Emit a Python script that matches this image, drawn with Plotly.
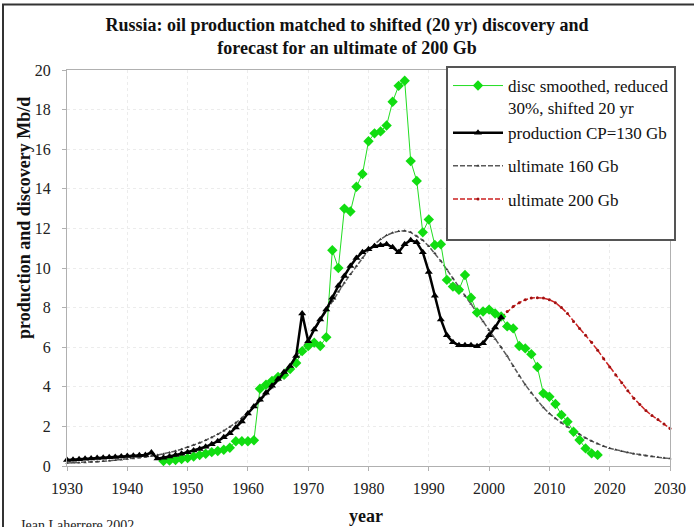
import plotly.graph_objects as go

# ---------------- data ----------------
disc_years = list(range(1946, 2019))
disc_values = [0.25, 0.28, 0.30, 0.35, 0.40, 0.48, 0.55, 0.62, 0.70, 0.76, 0.82, 0.92,
               1.25, 1.25, 1.25, 1.30,
               3.90, 4.10, 4.30, 4.50, 4.60, 4.90, 5.20, 5.80, 6.06, 6.23, 6.06, 6.50,
               10.90, 10.00, 13.00, 12.85, 14.10, 14.75, 16.40, 16.80, 16.90, 17.20, 18.40, 19.20, 19.46,
               15.40, 14.40, 11.80, 12.45, 11.16, 11.20, 9.40, 9.06, 8.90, 9.65, 8.50, 7.75, 7.80, 7.90,
               7.70, 7.55, 7.05, 6.95, 6.06, 5.94, 5.65, 5.00, 3.67, 3.50, 3.13, 2.58, 2.24, 1.73,
               1.31, 0.89, 0.64, 0.56]

prod_years = list(range(1930, 2003))
prod_values = [0.30, 0.32, 0.34, 0.36, 0.38, 0.40, 0.42, 0.44, 0.46, 0.48,
               0.50, 0.52, 0.54, 0.56, 0.68, 0.38, 0.42, 0.48, 0.55, 0.62,
               0.70, 0.78, 0.86, 0.97, 1.10, 1.25, 1.45, 1.65, 1.95, 2.25,
               2.65, 3.00, 3.35, 3.70, 4.05, 4.40, 4.75, 5.05, 5.55, 7.70,
               6.30, 6.90, 7.40, 7.90, 8.50, 9.10, 9.60, 10.10, 10.50, 10.80,
               10.95, 11.10, 11.15, 11.20, 11.05, 10.80, 11.20, 11.40, 11.30, 10.80,
               9.80, 8.60, 7.40, 6.60, 6.25, 6.10, 6.10, 6.10, 6.05, 6.20,
               6.60, 7.00, 7.50]

u160_years = list(range(1930, 2031))
u160_values = [0.15, 0.16, 0.17, 0.18, 0.20, 0.22, 0.24, 0.26, 0.29, 0.32,
               0.35, 0.38, 0.42, 0.46, 0.50, 0.55, 0.61, 0.68, 0.76, 0.85,
               0.95, 1.06, 1.17, 1.30, 1.44, 1.60, 1.78, 1.97, 2.18, 2.43,
               2.70, 2.99, 3.29, 3.61, 3.95, 4.30, 4.70, 5.10, 5.52, 5.95,
               6.40, 6.88, 7.36, 7.84, 8.32, 8.80, 9.25, 9.68, 10.10, 10.50,
               10.90, 11.20, 11.45, 11.65, 11.78, 11.85, 11.88, 11.80, 11.62, 11.40,
               11.10, 10.75, 10.35, 9.92, 9.47, 9.00, 8.60, 8.18, 7.75, 7.30,
               6.85, 6.42, 6.00, 5.55, 5.05, 4.55, 4.10, 3.70, 3.30, 2.95,
               2.65, 2.40, 2.18, 1.98, 1.78, 1.60, 1.42, 1.26, 1.12, 1.00,
               0.90, 0.82, 0.75, 0.68, 0.62, 0.57, 0.52, 0.48, 0.44, 0.41,
               0.38]

u200_years = list(range(2002, 2031))
u200_values = [7.50, 7.80, 8.05, 8.25, 8.40, 8.48, 8.50, 8.48, 8.40, 8.25,
               8.00, 7.70, 7.30, 6.95, 6.60, 6.25, 5.85, 5.42, 5.00, 4.60,
               4.20, 3.80, 3.42, 3.10, 2.80, 2.55, 2.35, 2.12, 1.90]

x_ticks = [1930, 1940, 1950, 1960, 1970, 1980, 1990, 2000, 2010, 2020, 2030]
y_ticks = [0, 2, 4, 6, 8, 10, 12, 14, 16, 18, 20]

FONT = "Liberation Serif"

# plot area in pixels (for placing extra texts)
L, R, T, B = 67, 670, 70, 466
PW, PH = R - L, B - T


def px(x):
    return (x - L) / PW


def py(y):
    return (B - y) / PH


fig = go.Figure()

fig.add_trace(go.Scatter(
    x=u160_years, y=u160_values, mode="lines+markers",
    name="ultimate 160 Gb",
    line=dict(color="#5a5a5a", width=1.5, dash="5px,2px"),
    marker=dict(symbol="triangle-up", size=3, color="#3a3a3a"),
    legendgroup="b", legendrank=3, cliponaxis=False))

fig.add_trace(go.Scatter(
    x=u200_years, y=u200_values, mode="lines+markers",
    name="ultimate 200 Gb<br> ",
    line=dict(color="#cc2222", width=1.5, dash="5px,2px"),
    marker=dict(symbol="circle", size=3, color="#a01010"),
    legendgroup="c", legendrank=4, cliponaxis=False))

fig.add_trace(go.Scatter(
    x=disc_years, y=disc_values, mode="lines+markers",
    name="disc smoothed, reduced<br>30%, shifted 20 yr",
    line=dict(color="#22dd22", width=1),
    marker=dict(symbol="diamond", size=8, color="#11dd11"),
    legendgroup="a", legendrank=1, cliponaxis=False))

fig.add_trace(go.Scatter(
    x=prod_years, y=prod_values, mode="lines+markers",
    name="production CP=130 Gb",
    line=dict(color="#000000", width=2.5),
    marker=dict(symbol="triangle-up", size=7, color="#000000"),
    legendgroup="a", legendrank=2, cliponaxis=False))

axis_common = dict(
    showline=True, linecolor="#b0b0b0", linewidth=1, mirror=True,
    ticks="outside", ticklen=4, tickcolor="#b0b0b0",
    showgrid=True, gridcolor="#ececec", griddash="dot",
    zeroline=False,
    tickfont=dict(family=FONT, size=16, color="#222222"),
)

fig.update_xaxes(range=[1930, 2030], tickvals=x_ticks, ticktext=[str(v) for v in x_ticks],
                 ticklabelstandoff=4, **axis_common)
fig.update_yaxes(range=[0, 20], tickvals=y_ticks, ticktext=[str(v) for v in y_ticks],
                 ticklabelstandoff=8, **axis_common)

fig.update_layout(
    width=694, height=527,
    margin=dict(l=L, r=694 - R, t=T, b=527 - B, autoexpand=False),
    paper_bgcolor="white", plot_bgcolor="white",
    font=dict(family=FONT, color="#111111"),
    title=dict(
        text="<b>Russia: oil production matched to shifted (20 yr) discovery and<br>forecast for an ultimate of 200 Gb</b>",
        x=0.5, xref="container", xanchor="center",
        y=1 - 31 / 527, yref="container", yanchor="top",
        font=dict(family=FONT, size=18, color="#111111")),
    legend=dict(
        x=px(446), xref="paper", xanchor="left",
        y=py(66), yref="paper", yanchor="top",
        bgcolor="white", bordercolor="#555555", borderwidth=2,
        font=dict(family=FONT, size=17, color="#111111"),
        itemwidth=50, entrywidth=300, entrywidthmode="pixels",
        valign="top", traceorder="grouped", tracegroupgap=8),
    showlegend=True,
    annotations=[
        dict(text="<b>production and discovery Mb/d</b>", textangle=-90,
             xref="paper", yref="paper", x=px(24), y=py(218),
             xanchor="center", yanchor="middle", showarrow=False,
             font=dict(family=FONT, size=18, color="#111111")),
        dict(text="<b>year</b>", xref="paper", yref="paper",
             x=px(366), y=py(516),
             xanchor="center", yanchor="middle", showarrow=False,
             font=dict(family=FONT, size=18, color="#111111")),
        dict(text="Jean Laherrere 2002", xref="paper", yref="paper",
             x=px(18), y=py(525),
             xanchor="left", yanchor="middle", showarrow=False,
             font=dict(family=FONT, size=14, color="#222222")),
    ],
    shapes=[
        dict(type="rect", xref="paper", yref="paper",
             x0=px(3), x1=px(720), y0=py(560), y1=py(4.5),
             line=dict(color="#333333", width=2), fillcolor="rgba(0,0,0,0)", layer="below"),
    ],
)

fig.write_html("out.html",
               config={"displayModeBar": False},
               post_script="document.body.style.margin='0px';document.body.style.padding='0px';")
